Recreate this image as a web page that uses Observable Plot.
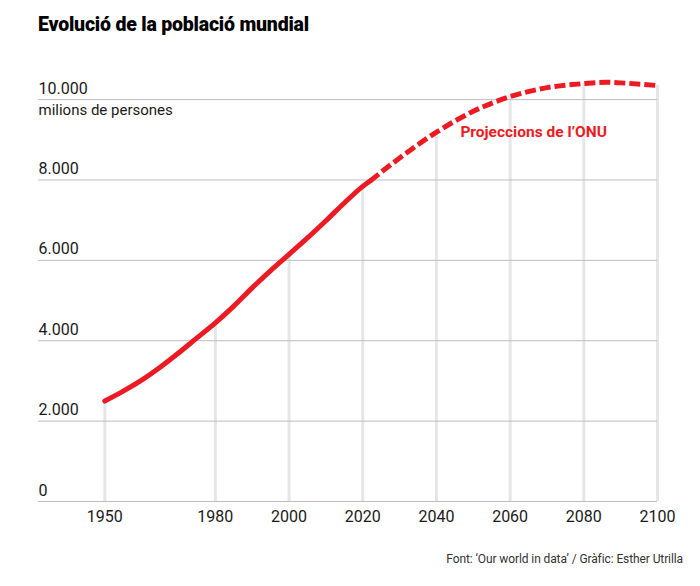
<!DOCTYPE html>
<html>
<head>
<meta charset="utf-8">
<script src="https://cdn.jsdelivr.net/npm/d3@7"></script>
<script src="https://cdn.jsdelivr.net/npm/@observablehq/plot@0.6"></script>
<style>
  html, body { margin: 0; padding: 0; background: #fff; }
  body { width: 700px; font-family: Roboto, "Noto Sans", sans-serif; color: #111; }
  #title { height: 50px; box-sizing: border-box; padding: 13px 0 0 38px; font-size: 19.5px; font-weight: 900; letter-spacing: -0.2px; color: #000; }
  #caption { text-align: right; padding-right: 17px; font-size: 12px; color: #333; margin-top: 12px; letter-spacing: -0.1px; }
  svg { display: block; }
</style>
</head>
<body>
<div id="title">Evolució de la població mundial</div>
<div id="chart"></div>
<div id="caption">Font: ‘Our world in data’ / Gràfic: Esther Utrilla</div>
<script>
// Historical (million people)
const histYears  = [1950, 1955, 1960, 1965, 1970, 1975, 1980, 1985, 1990, 1995, 2000, 2005, 2010, 2015, 2020, 2022];
const histValues = [2499, 2746, 3019, 3340, 3695, 4070, 4444, 4862, 5316, 5743, 6149, 6558, 6986, 7427, 7841, 7975];
// UN projections
const projYears  = [2022, 2030, 2040, 2050, 2060, 2070, 2080, 2086, 2090, 2100];
const projValues = [7975, 8546, 9188, 9709, 10073, 10297, 10398, 10431, 10416, 10349];
const xTicks = [1950, 1980, 2000, 2020, 2040, 2060, 2080, 2100];
const yTicks = [0, 2000, 4000, 6000, 8000, 10000];
const unitLabel = "milions de persones";
const projLabel = "Projeccions de l’ONU";

const hist = histYears.map((y, i) => ({year: y, value: histValues[i]}));
const proj = projYears.map((y, i) => ({year: y, value: projValues[i]}));
const all = hist.concat(proj.slice(1));
const tickRules = xTicks.map(y => all.find(d => d.year === y));

const fmt = d3.formatLocale({decimal: ",", thousands: ".", grouping: [3], currency: ["", ""]}).format(",");
const red = "#ec1b23";

const plot = Plot.plot({
  width: 700,
  height: 490,
  marginLeft: 38,
  marginRight: 43,
  marginTop: 29,
  marginBottom: 39,
  style: {fontFamily: "Roboto, sans-serif", fontSize: "16px", color: "#222"},
  x: {domain: [1932, 2100], label: null},
  y: {domain: [0, 10500], label: null},
  marks: [
    Plot.ruleX(tickRules, {x: "year", y1: 0, y2: "value", stroke: "#e6e6e6", strokeWidth: 3}),
    Plot.ruleY(yTicks, {stroke: "#bdbdbd", strokeWidth: 1}),
    Plot.axisY(yTicks, {tickSize: 0, tickPadding: 0, textAnchor: "start", dy: -11, tickFormat: fmt, fill: "#1a1a1a", fontSize: 16}),
    Plot.axisX(xTicks, {tickSize: 0, tickPadding: 9, tickFormat: d => String(d), fill: "#1a1a1a", fontSize: 16}),
    Plot.text([unitLabel], {y: [10000], frameAnchor: "left", textAnchor: "start", dy: 11, fill: "#1a1a1a", fontSize: 15}),
    Plot.line(hist, {x: "year", y: "value", stroke: red, strokeWidth: 5, curve: "monotone-x"}),
    Plot.line(proj, {x: "year", y: "value", stroke: red, strokeWidth: 5, curve: "monotone-x", strokeDasharray: "11,4", strokeLinecap: "butt"}),
    Plot.text([projLabel], {x: [2046.5], y: [9200], textAnchor: "start", fill: red, fontWeight: "bold", fontSize: 15.5})
  ]
});
document.getElementById("chart").appendChild(plot);
</script>
</body>
</html>
